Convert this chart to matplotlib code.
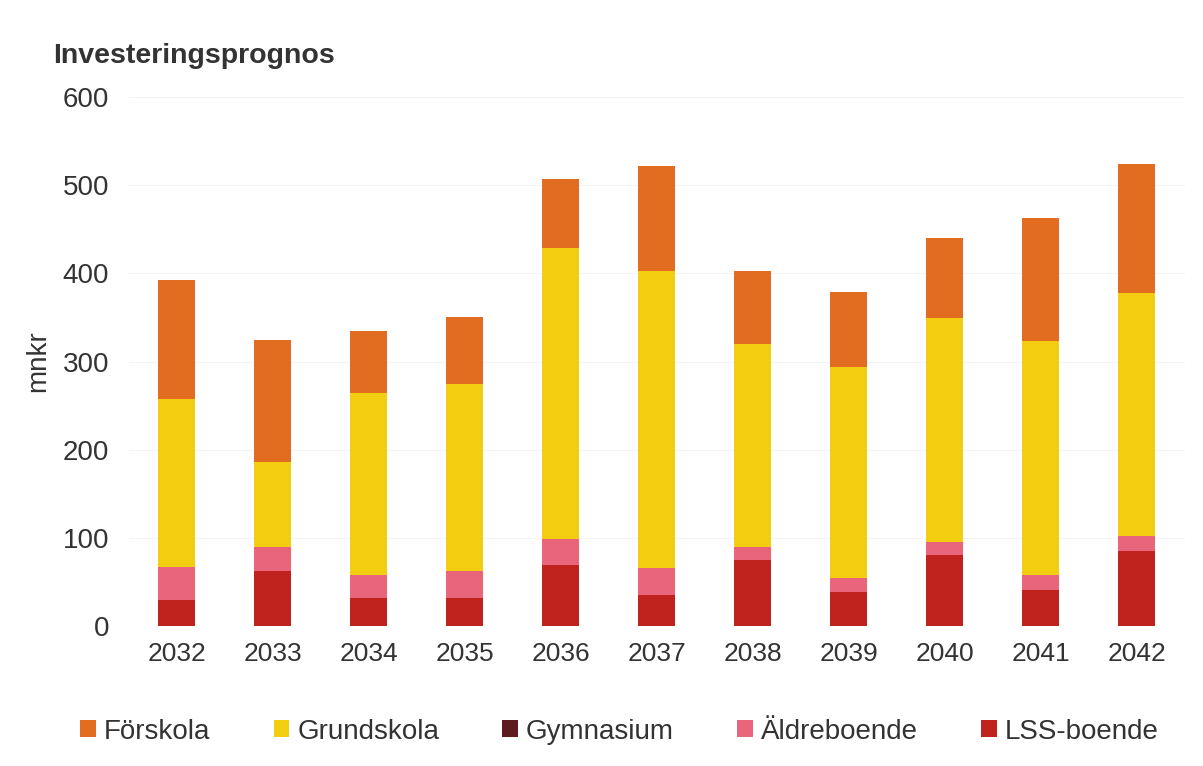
import numpy as np
import matplotlib.pyplot as plt

plt.rcParams['font.family'] = ['Liberation Sans', 'DejaVu Sans']

# years on the x axis
years = ["2032", "2033", "2034", "2035", "2036", "2037", "2038", "2039", "2040", "2041", "2042"]

# segment values, mnkr
lss = [29, 62, 32, 32, 69, 35, 75, 38, 80, 41, 85]
gymnasium = [0, 0, 0, 0, 0, 0, 0, 0, 0, 0, 0]
aldreboende = [38, 27, 26, 30, 29, 31, 14, 16, 15, 17, 17]
grundskola = [191, 97, 206, 213, 331, 337, 231, 240, 255, 265, 276]
forskola = [135, 138, 71, 76, 78, 119, 83, 85, 90, 140, 146]

series = [
    ("LSS-boende", lss, "#C0231E"),
    ("Gymnasium", gymnasium, "#5E1A1C"),
    ("Äldreboende", aldreboende, "#E8657B"),
    ("Grundskola", grundskola, "#F3CD0F"),
    ("Förskola", forskola, "#E26C1F"),
]

fig = plt.figure(figsize=(12.03, 7.66), dpi=100)
ax = fig.add_axes([0.107, 0.183, 0.878, 0.69])

x = np.arange(len(years))
bottom = np.zeros(len(years))
bars = {}
for name, vals, col in series:
    vals = np.array(vals, dtype=float)
    bars[name] = ax.bar(x, vals, 0.385, bottom=bottom, color=col, label=name)
    bottom += vals

ax.set_xlim(-0.5, len(years) - 0.5)
ax.set_ylim(0, 600)
ax.set_yticks(range(0, 601, 100))
ax.set_xticks(x)
ax.set_xticklabels(years)
ax.tick_params(length=0, labelsize=19, colors="#333333")
ax.tick_params(axis="y", labelsize=20)
ax.tick_params(axis="x", pad=12)
ax.tick_params(axis="y", pad=14)
ax.yaxis.grid(True, color="#f4f4f4", lw=0.8)
ax.set_axisbelow(True)
for s in ax.spines.values():
    s.set_visible(False)

ax.set_ylabel("mnkr", fontsize=20, color="#333333", labelpad=8)
fig.text(0.044, 0.927, "Investeringsprognos", fontsize=20.5, fontweight="bold",
         color="#333333", va="center")

order = ["Förskola", "Grundskola", "Gymnasium", "Äldreboende", "LSS-boende"]
fig.legend([bars[n] for n in order], order, loc="center", bbox_to_anchor=(0.515, 0.045),
           ncol=5, frameon=False, fontsize=20, handlelength=0.55, handleheight=0.55,
           handletextpad=0.3, columnspacing=2.28, labelcolor="#333333")

fig.savefig("out.png", dpi=100)
